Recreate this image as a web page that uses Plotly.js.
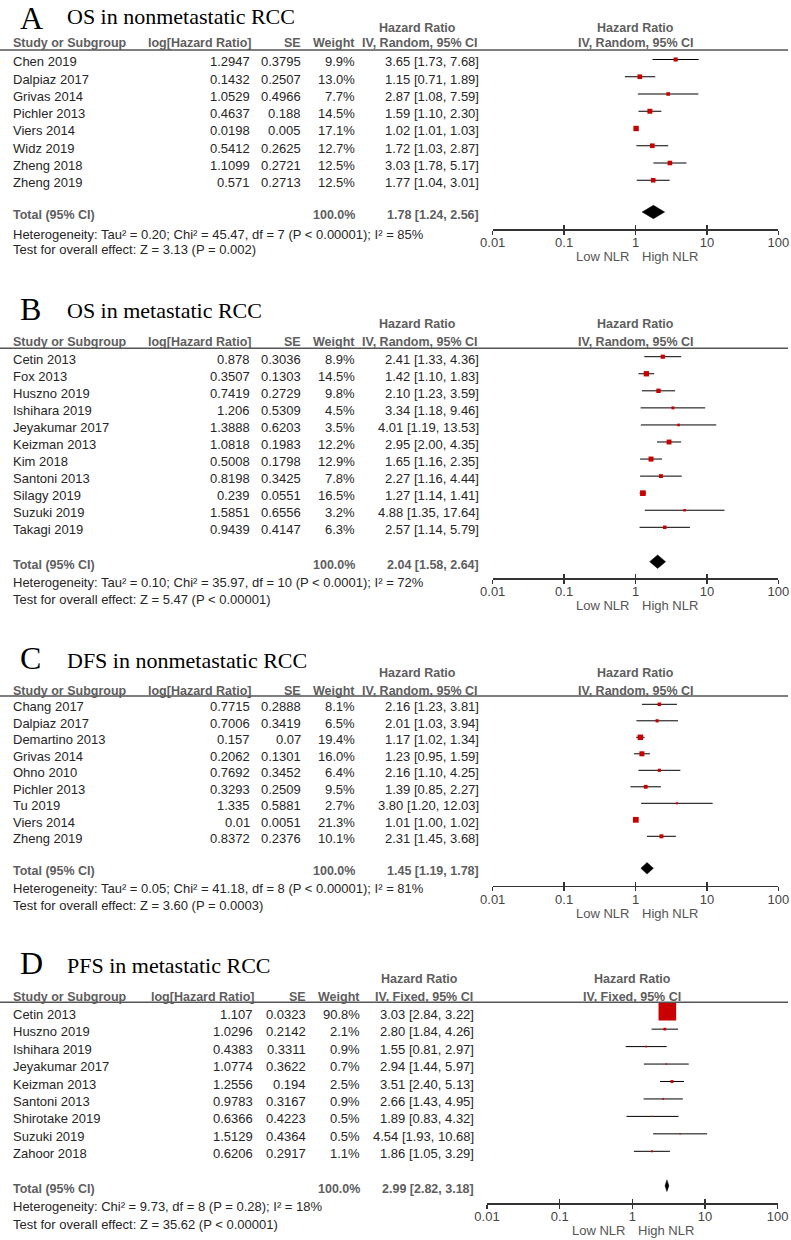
<!DOCTYPE html>
<html><head><meta charset="utf-8">
<script src="https://cdn.plot.ly/plotly-3.0.1.min.js"></script>
<style>html,body{margin:0;padding:0;background:#fff}</style>
</head><body><div id="chart" style="width:791px;height:1240px"></div>
<script>
// ---------- DATA ----------
const letters = ['A','B','C','D'];
const titles = ['OS in nonmetastatic RCC','OS in metastatic RCC','DFS in nonmetastatic RCC','PFS in metastatic RCC'];
const methods = ['IV, Random, 95% CI','IV, Random, 95% CI','IV, Random, 95% CI','IV, Fixed, 95% CI'];
const tickVals = [0.01,0.1,1,10,100];
const tickText = ['0.01','0.1','1','10','100'];
const favourLow = 'Low NLR';
const favourHigh = 'High NLR';

const studiesA = ['Chen 2019','Dalpiaz 2017','Grivas 2014','Pichler 2013','Viers 2014','Widz 2019','Zheng 2018','Zheng 2019'];
const logHRA = [1.2947,0.1432,1.0529,0.4637,0.0198,0.5412,1.1099,0.571];
const seA = [0.3795,0.2507,0.4966,0.188,0.005,0.2625,0.2721,0.2713];
const weightA = [9.9,13.0,7.7,14.5,17.1,12.7,12.5,12.5];
const hrA = [3.65,1.15,2.87,1.59,1.02,1.72,3.03,1.77];
const loA = [1.73,0.71,1.08,1.10,1.01,1.03,1.78,1.04];
const hiA = [7.68,1.89,7.59,2.30,1.03,2.87,5.17,3.01];
const totalA = [1.78,1.24,2.56];
const hetA = 'Heterogeneity: Tau² = 0.20; Chi² = 45.47, df = 7 (P < 0.00001); I² = 85%';
const testA = 'Test for overall effect: Z = 3.13 (P = 0.002)';

const studiesB = ['Cetin 2013','Fox 2013','Huszno 2019','Ishihara 2019','Jeyakumar 2017','Keizman 2013','Kim 2018','Santoni 2013','Silagy 2019','Suzuki 2019','Takagi 2019'];
const logHRB = [0.878,0.3507,0.7419,1.206,1.3888,1.0818,0.5008,0.8198,0.239,1.5851,0.9439];
const seB = [0.3036,0.1303,0.2729,0.5309,0.6203,0.1983,0.1798,0.3425,0.0551,0.6556,0.4147];
const weightB = [8.9,14.5,9.8,4.5,3.5,12.2,12.9,7.8,16.5,3.2,6.3];
const hrB = [2.41,1.42,2.10,3.34,4.01,2.95,1.65,2.27,1.27,4.88,2.57];
const loB = [1.33,1.10,1.23,1.18,1.19,2.00,1.16,1.16,1.14,1.35,1.14];
const hiB = [4.36,1.83,3.59,9.46,13.53,4.35,2.35,4.44,1.41,17.64,5.79];
const totalB = [2.04,1.58,2.64];
const hetB = 'Heterogeneity: Tau² = 0.10; Chi² = 35.97, df = 10 (P < 0.0001); I² = 72%';
const testB = 'Test for overall effect: Z = 5.47 (P < 0.00001)';

const studiesC = ['Chang 2017','Dalpiaz 2017','Demartino 2013','Grivas 2014','Ohno 2010','Pichler 2013','Tu 2019','Viers 2014','Zheng 2019'];
const logHRC = [0.7715,0.7006,0.157,0.2062,0.7692,0.3293,1.335,0.01,0.8372];
const seC = [0.2888,0.3419,0.07,0.1301,0.3452,0.2509,0.5881,0.0051,0.2376];
const weightC = [8.1,6.5,19.4,16.0,6.4,9.5,2.7,21.3,10.1];
const hrC = [2.16,2.01,1.17,1.23,2.16,1.39,3.80,1.01,2.31];
const loC = [1.23,1.03,1.02,0.95,1.10,0.85,1.20,1.00,1.45];
const hiC = [3.81,3.94,1.34,1.59,4.25,2.27,12.03,1.02,3.68];
const totalC = [1.45,1.19,1.78];
const hetC = 'Heterogeneity: Tau² = 0.05; Chi² = 41.18, df = 8 (P < 0.00001); I² = 81%';
const testC = 'Test for overall effect: Z = 3.60 (P = 0.0003)';

const studiesD = ['Cetin 2013','Huszno 2019','Ishihara 2019','Jeyakumar 2017','Keizman 2013','Santoni 2013','Shirotake 2019','Suzuki 2019','Zahoor 2018'];
const logHRD = [1.107,1.0296,0.4383,1.0774,1.2556,0.9783,0.6366,1.5129,0.6206];
const seD = [0.0323,0.2142,0.3311,0.3622,0.194,0.3167,0.4223,0.4364,0.2917];
const weightD = [90.8,2.1,0.9,0.7,2.5,0.9,0.5,0.5,1.1];
const hrD = [3.03,2.80,1.55,2.94,3.51,2.66,1.89,4.54,1.86];
const loD = [2.84,1.84,0.81,1.44,2.40,1.43,0.83,1.93,1.05];
const hiD = [3.22,4.26,2.97,5.97,5.13,4.95,4.32,10.68,3.29];
const totalD = [2.99,2.82,3.18];
const hetD = 'Heterogeneity: Chi² = 9.73, df = 8 (P = 0.28); I² = 18%';
const testD = 'Test for overall effect: Z = 35.62 (P < 0.00001)';

// ---------- LAYOUT GEOMETRY (pixels) ----------
const W = 791, H = 1240;
const px = x => x / W;
const py = y => 1 - y / H;
const geo = [
  {r1:59.5, s:17.25, rt:212, yH:50, yA:229.3, yT:16.5, yL:18, yHR:27.5, yCH:43.5, yHet:234, yTest:249.5, xL:492.7, xR:778.3,
   cLog:251, cSE:302, cWt:355.5, cCI:480, cHR:418, k:1.3, dh:6.7},
  {r1:356.7, s:17.06, rt:561.7, yH:348.3, yA:578.3, yT:310.5, yL:309, yHR:324.3, yCH:342, yHet:582.3, yTest:599.3, xL:492.7, xR:778.3,
   cLog:251, cSE:302, cWt:355.5, cCI:480, cHR:418, k:1.4, dh:6.7},
  {r1:704.3, s:16.5, rt:868.3, yH:696, yA:885.7, yT:659.5, yL:658, yHR:673.3, yCH:690.5, yHet:888.3, yTest:905, xL:492.7, xR:778.3,
   cLog:251, cSE:302, cWt:355.5, cCI:480, cHR:418, k:1.25, dh:5.8},
  {r1:1011.7, s:17.45, rt:1185.7, yH:1002.3, yA:1203.3, yT:964.5, yL:963, yHR:979.3, yCH:997, yHet:1206.7, yTest:1224, xL:487, xR:777.7,
   cLog:254, cSE:306.7, cWt:361, cCI:475, cHR:419, k:1.85, dh:5.8}
];

const panels = [
  {studies:studiesA, logHR:logHRA, se:seA, w:weightA, hr:hrA, lo:loA, hi:hiA, tot:totalA, het:hetA, test:testA},
  {studies:studiesB, logHR:logHRB, se:seB, w:weightB, hr:hrB, lo:loB, hi:hiB, tot:totalB, het:hetB, test:testB},
  {studies:studiesC, logHR:logHRC, se:seC, w:weightC, hr:hrC, lo:loC, hi:hiC, tot:totalC, het:hetC, test:testC},
  {studies:studiesD, logHR:logHRD, se:seD, w:weightD, hr:hrD, lo:loD, hi:hiD, tot:totalD, het:hetD, test:testD}
];

const FONT = 'Liberation Sans, Arial, sans-serif';
const SERIF = 'Liberation Serif, Times New Roman, serif';
const BODY = {family:FONT, size:13, color:'#262626'};
const HEAD = {family:FONT, size:12.5, color:'#5e5e5e', weight:'bold'};
const AXC = '#333';

const data = [], annotations = [], shapes = [];
const layout = {
  width:W, height:H, margin:{l:0,r:0,t:0,b:0}, paper_bgcolor:'#fff', plot_bgcolor:'rgba(0,0,0,0)',
  showlegend:false, hovermode:false
};

function ann(o){ annotations.push(Object.assign({showarrow:false, xref:'paper', yref:'paper', borderpad:0}, o)); }

panels.forEach((p, i) => {
  const g = geo[i];
  const ax = i === 0 ? '' : String(i + 1);
  const xa = 'x' + ax, ya = 'y' + ax;
  const rows = p.studies.map((_, j) => j + 1);
  const vTop = 1 - (g.r1 - g.yH) / g.s;
  const vBot = 1 + (g.yA - g.r1) / g.s;
  const rowT = 1 + (g.rt - g.r1) / g.s;
  const xOne = g.xL + (g.xR - g.xL) / 2;

  // CI lines
  const lx = [], ly = [];
  p.lo.forEach((l, j) => { lx.push(l, p.hi[j], null); ly.push(j + 1, j + 1, null); });
  data.push({type:'scatter', mode:'lines', x:lx, y:ly, xaxis:xa, yaxis:ya,
    line:{color:'#000', width:1}, hoverinfo:'skip', cliponaxis:false});
  // weight squares
  data.push({type:'scatter', mode:'markers', x:p.hr, y:rows, xaxis:xa, yaxis:ya,
    marker:{symbol:'square', size:p.w.map(w => g.k * Math.sqrt(w)), color:'#c80000', opacity:1, line:{width:0}},
    hoverinfo:'skip', cliponaxis:false});
  // pooled diamond
  const dh = g.dh / g.s;
  data.push({type:'scatter', mode:'lines', xaxis:xa, yaxis:ya,
    x:[p.tot[1], p.tot[0], p.tot[2], p.tot[0], p.tot[1]],
    y:[rowT, rowT - dh, rowT, rowT + dh, rowT],
    fill:'toself', fillcolor:'#000', line:{color:'#000', width:0.5}, hoverinfo:'skip', cliponaxis:false});
  // empty trace for overlay tick axis
  data.push({type:'scatter', mode:'markers', x:[], y:[], xaxis:'x' + (i + 5), yaxis:ya, hoverinfo:'skip'});

  const dom = [px(g.xL), px(g.xR)];
  layout['xaxis' + ax] = {
    domain:dom, type:'log', range:[-2, 2], anchor:ya, showgrid:false, zeroline:false,
    showline:true, linecolor:AXC, linewidth:1.5, ticks:'outside', ticklen:4, tickwidth:1.5, tickcolor:AXC,
    tickmode:'array', tickvals:tickVals, ticktext:tickText, ticklabelstandoff:-3,
    tickfont:{family:FONT, size:13, color:'#444'}, fixedrange:true
  };
  layout['xaxis' + (i + 5)] = {
    domain:dom, type:'log', range:[-2, 2], anchor:ya, overlaying:xa, showgrid:false, zeroline:false,
    showline:false, ticks:'inside', ticklen:4, tickwidth:1.5, tickcolor:AXC,
    tickmode:'array', tickvals:tickVals, showticklabels:false, fixedrange:true
  };
  layout['yaxis' + ax] = {
    domain:[py(g.yA), py(g.yH)], range:[vBot, vTop], anchor:xa,
    showgrid:false, zeroline:false, showline:false, showticklabels:false, ticks:'', fixedrange:true
  };

  // reference line at HR = 1 (log10(1) = 0 for shapes on log axes)
  shapes.push({type:'line', xref:xa, yref:ya + ' domain', x0:0, x1:0, y0:0, y1:1,
    line:{color:AXC, width:1.3}, layer:'below'});
  // header rule
  shapes.push({type:'line', xref:'paper', yref:'paper', x0:0, x1:px(788), y0:py(g.yH), y1:py(g.yH),
    line:{color:'#555', width:1.5}});

  // title
  ann({x:px(19), y:py(g.yL), xanchor:'left', yanchor:'middle', text:letters[i],
       font:{family:SERIF, size:32, color:'#000'}});
  ann({x:px(66), y:py(g.yT + 0.5), xanchor:'left', yanchor:'middle', text:titles[i],
       font:{family:SERIF, size:22, color:'#000'}});

  // column headers
  ann({x:px(g.cHR), y:py(g.yHR), xanchor:'center', yanchor:'middle', text:'Hazard Ratio', font:HEAD});
  ann({x:px(xOne), y:py(g.yHR), xanchor:'center', yanchor:'middle', text:'Hazard Ratio', font:HEAD});
  ann({x:px(12), y:py(g.yCH), xanchor:'left', yanchor:'middle', text:'Study or Subgroup', font:HEAD});
  ann({x:px(g.cLog + 1), y:py(g.yCH), xanchor:'right', yanchor:'middle', text:'log[Hazard Ratio]', font:HEAD});
  ann({x:px(g.cSE), y:py(g.yCH), xanchor:'right', yanchor:'middle', text:'SE', font:HEAD});
  ann({x:px(g.cWt), y:py(g.yCH), xanchor:'right', yanchor:'middle', text:'Weight', font:HEAD});
  ann({x:px(g.cCI - 1), y:py(g.yCH), xanchor:'right', yanchor:'middle', text:methods[i], font:HEAD});
  ann({x:px(xOne), y:py(g.yCH), xanchor:'center', yanchor:'middle', text:methods[i], font:HEAD});

  // study rows
  p.studies.forEach((s, j) => {
    const base = {yref:ya, y:j + 1, yanchor:'middle', yshift:-2.5, font:BODY};
    ann(Object.assign({}, base, {x:px(12), xanchor:'left', text:s}));
    ann(Object.assign({}, base, {x:px(g.cLog), xanchor:'right', text:String(p.logHR[j])}));
    ann(Object.assign({}, base, {x:px(g.cSE), xanchor:'right', text:String(p.se[j])}));
    ann(Object.assign({}, base, {x:px(g.cWt), xanchor:'right', text:p.w[j].toFixed(1) + '%'}));
    ann(Object.assign({}, base, {x:px(g.cCI), xanchor:'right',
      text:p.hr[j].toFixed(2) + ' [' + p.lo[j].toFixed(2) + ', ' + p.hi[j].toFixed(2) + ']'}));
  });

  // total row
  const tb = {yref:ya, y:rowT, yanchor:'middle', yshift:-3, font:HEAD};
  const totW = p.w.reduce((a, b) => a + b, 0);
  ann(Object.assign({}, tb, {x:px(12), xanchor:'left', text:'Total (95% CI)'}));
  ann(Object.assign({}, tb, {x:px(g.cWt), xanchor:'right', text:(Math.round(totW)).toFixed(1) + '%'}));
  ann(Object.assign({}, tb, {x:px(g.cCI), xanchor:'right',
    text:p.tot[0].toFixed(2) + ' [' + p.tot[1].toFixed(2) + ', ' + p.tot[2].toFixed(2) + ']'}));

  // heterogeneity & overall effect
  ann({x:px(12), y:py(g.yHet), xanchor:'left', yanchor:'middle', text:p.het, font:BODY});
  ann({x:px(12), y:py(g.yTest), xanchor:'left', yanchor:'middle', text:p.test, font:BODY});

  // favours labels
  const yFav = g.yA + 27.5;
  ann({x:px(xOne - 6), y:py(yFav), xanchor:'right', yanchor:'middle', text:favourLow,
       font:{family:FONT, size:13, color:'#555'}});
  ann({x:px(xOne + 5), y:py(yFav), xanchor:'left', yanchor:'middle', text:favourHigh,
       font:{family:FONT, size:13, color:'#555'}});
});

layout.annotations = annotations;
layout.shapes = shapes;

Plotly.newPlot('chart', data, layout, {staticPlot:true, displayModeBar:false});
</script></body></html>
